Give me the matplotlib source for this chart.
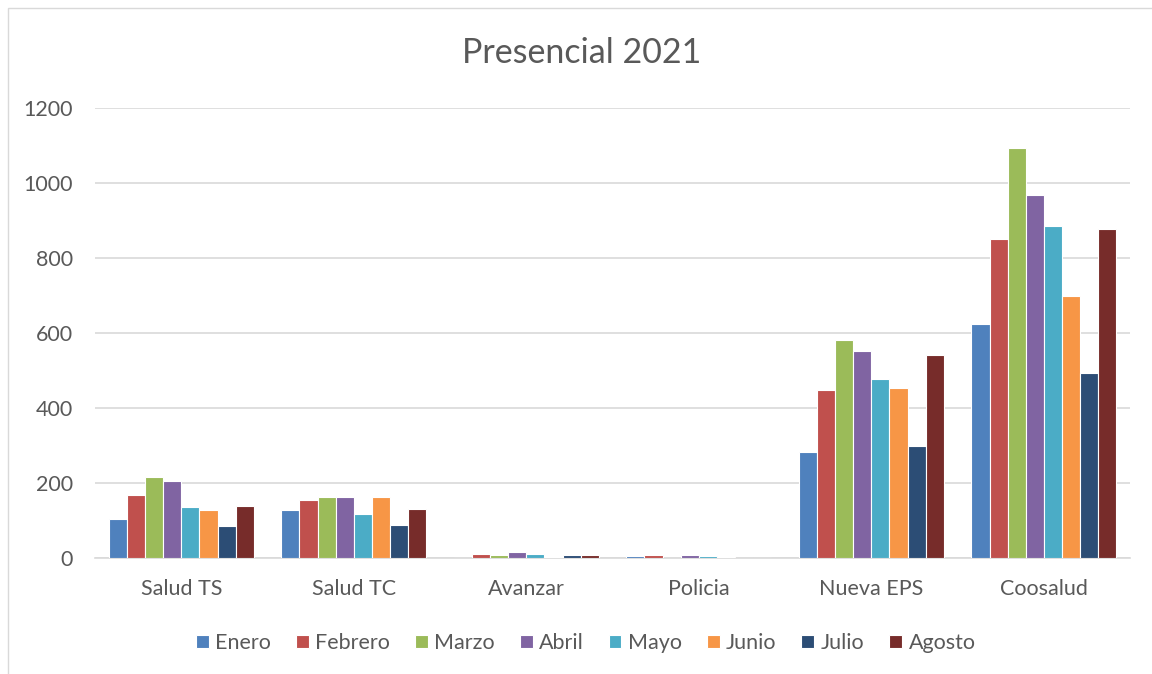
import numpy as np
import matplotlib.pyplot as plt
from matplotlib.patches import Rectangle

plt.rcParams['font.family'] = ['Lato', 'DejaVu Sans']

categorias = ['Salud TS', 'Salud TC', 'Avanzar', 'Policia', 'Nueva EPS', 'Coosalud']
meses = ['Enero', 'Febrero', 'Marzo', 'Abril', 'Mayo', 'Junio', 'Julio', 'Agosto']
colores = ['#4f81bd', '#c0504d', '#9bbb59', '#8064a2', '#4bacc6', '#f79646', '#2c4d75', '#772c2a']

enero = [104, 127, 0, 5, 283, 625]
febrero = [167, 155, 11, 8, 448, 850]
marzo = [215, 164, 8, 1, 582, 1093]
abril = [206, 164, 15, 7, 551, 967]
mayo = [137, 118, 11, 5, 478, 886]
junio = [129, 162, 3, 3, 454, 698]
julio = [85, 88, 7, 0, 300, 493]
agosto = [140, 130, 8, 0, 542, 878]
series = [enero, febrero, marzo, abril, mayo, junio, julio, agosto]

fig = plt.figure(figsize=(11.52, 6.74), dpi=100)
ax = fig.add_axes([0.0825, 0.172, 0.8985, 0.668])

x = np.arange(len(categorias))
w = 0.105
for i, (mes, vals) in enumerate(zip(meses, series)):
    off = (i - 3.5) * w
    ax.bar(x + off, vals, w, color=colores[i], edgecolor='white', linewidth=0.8,
           label=mes, zorder=3)

ax.set_xlim(-0.5, 5.5)
ax.set_ylim(0, 1200)
ax.set_yticks(range(0, 1201, 200))
ax.set_xticks(x)
ax.set_xticklabels(categorias)
ax.grid(axis='y', color='#d9d9d9', linewidth=1.2, zorder=0)
for s in ['top', 'right', 'left']:
    ax.spines[s].set_visible(False)
ax.spines['bottom'].set_color('#d9d9d9')
ax.spines['bottom'].set_linewidth(1.2)
ax.tick_params(axis='both', length=0, labelsize=15.5, colors='#595959')
ax.tick_params(axis='y', pad=16)
ax.tick_params(axis='x', pad=15)

fig.text(0.505, 0.922, 'Presencial 2021', ha='center', va='center', fontsize=24.5, color='#595959')

leg = ax.legend(loc='center', bbox_to_anchor=(0.474, -0.189), ncol=8, frameon=False,
                fontsize=15.5, handlelength=0.6, handleheight=0.6, handletextpad=0.3,
                columnspacing=1.15)
for t in leg.get_texts():
    t.set_color('#595959')

fig.patches.append(Rectangle((8 / 1152, -0.1), 1.2, 1 - 8 / 674 + 0.1, transform=fig.transFigure,
                             fill=False, edgecolor='#d9d9d9', linewidth=1))

fig.savefig('out.png', dpi=100)
